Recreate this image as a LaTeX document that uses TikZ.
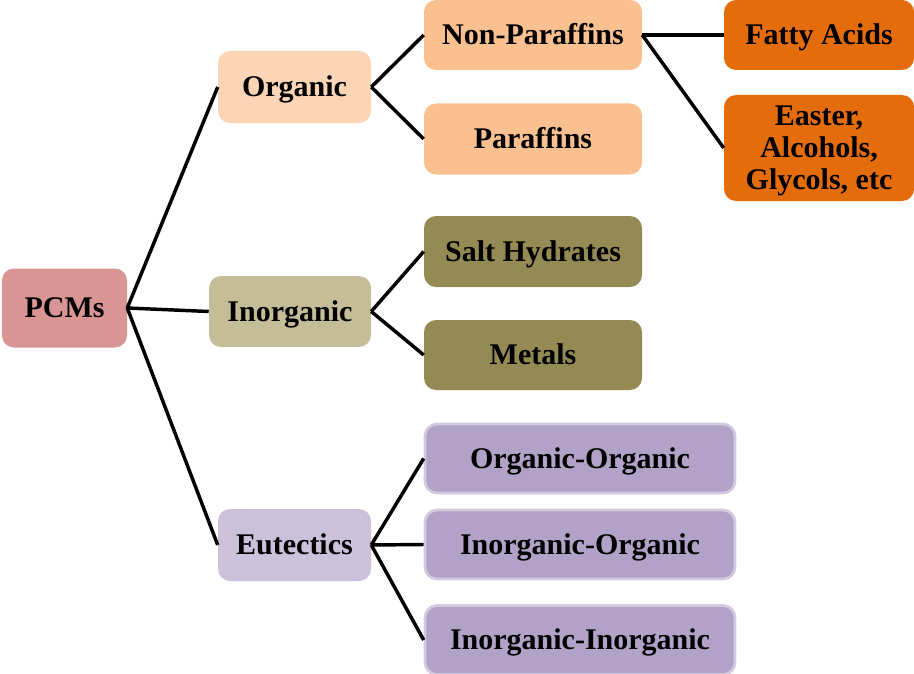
\documentclass[tikz,border=0pt]{standalone}
\usepackage{fontspec}
\setmainfont{Liberation Serif}
\definecolor{cpcm}{HTML}{D99594}
\definecolor{corg}{HTML}{FBD5B5}
\definecolor{cpar}{HTML}{FAC090}
\definecolor{cfat}{HTML}{E46C0A}
\definecolor{cinorg}{HTML}{C4BD97}
\definecolor{csalt}{HTML}{948A54}
\definecolor{ceut}{HTML}{CCC1DA}
\definecolor{cpur}{HTML}{B2A2C7}
\definecolor{cpurb}{HTML}{D3C9E0}
\tikzset{
  box/.style={rectangle, rounded corners=9pt, inner sep=0pt, align=center,
    font=\fontsize{22.5}{24}\selectfont\bfseries, text=black},
  one/.style={text height=14.9pt, text depth=0pt},
  sz/.style 2 args={minimum width=#1*0.75pt, minimum height=#2*0.75pt},
  conn/.style={draw=black, line width=2.6pt},
}
\begin{document}
\begin{tikzpicture}[x=0.75pt,y=-0.75pt]
\useasboundingbox (0,0) rectangle (914,674);
\node[box, one, fill=cpcm, sz={125}{79}] (pcm) at (64.5,308) {PCMs};
\node[box, one, fill=corg, sz={153}{72}] (org) at (294.5,87) {Organic};
\node[box, one, fill=cinorg, sz={162}{71}] (inorg) at (290,311.5) {Inorganic};
\node[box, one, fill=ceut, sz={153}{72}] (eut) at (294.5,545) {Eutectics};
\node[box, one, fill=cpar, sz={218}{70}] (nonpar) at (533,35) {Non-Paraffins};
\node[box, one, fill=cpar, sz={218}{71}] (par) at (533,139) {Paraffins};
\node[box, one, fill=cfat, sz={190}{70}] (fatty) at (819,35) {Fatty Acids};
\node[box, fill=cfat, sz={190}{106}] (easter) at (819,148) {\raisebox{-2.4pt}[\height][\depth]{\begin{tabular}{@{}c@{}}Easter,\\Alcohols,\\Glycols, etc\end{tabular}}};
\node[box, one, fill=csalt, sz={218}{71}] (salt) at (533,251.5) {Salt Hydrates};
\node[box, one, fill=csalt, sz={218}{70}] (metals) at (533,355) {Metals};
\node[box, one, fill=cpur, draw=cpurb, line width=2pt, sz={310}{69}] (oo) at (580,458.5) {Organic-Organic};
\node[box, one, fill=cpur, draw=cpurb, line width=2pt, sz={310}{69}] (io) at (580,544.5) {Inorganic-Organic};
\node[box, one, fill=cpur, draw=cpurb, line width=2pt, sz={310}{69}] (ii) at (580,640) {Inorganic-Inorganic};
\draw[conn] (pcm.east) -- (org.west);
\draw[conn] (pcm.east) -- (inorg.west);
\draw[conn] (pcm.east) -- (eut.west);
\draw[conn] (org.east) -- (nonpar.west);
\draw[conn] (org.east) -- (par.west);
\draw[conn] (nonpar.east) -- (fatty.west);
\draw[conn] (nonpar.east) -- (easter.west);
\draw[conn] (inorg.east) -- (salt.west);
\draw[conn] (inorg.east) -- (metals.west);
\draw[conn] (eut.east) -- (oo.west);
\draw[conn] (eut.east) -- (io.west);
\draw[conn] (eut.east) -- (ii.west);
\end{tikzpicture}
\end{document}
